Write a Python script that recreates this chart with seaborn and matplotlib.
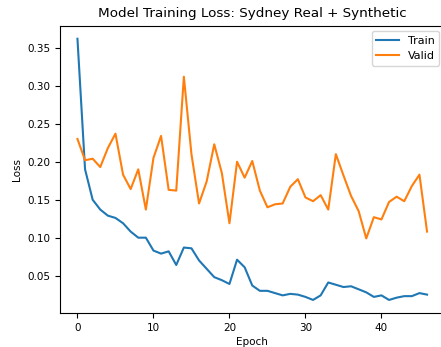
import pandas as pd
import matplotlib
matplotlib.use("Agg")
import matplotlib.pyplot as plt
import seaborn as sns

epochs = list(range(47))
train_loss = [0.362, 0.19, 0.15, 0.137, 0.129, 0.126, 0.119, 0.108, 0.1, 0.1,
              0.083, 0.079, 0.082, 0.064, 0.087, 0.086, 0.07, 0.059, 0.048, 0.044,
              0.039, 0.071, 0.061, 0.037, 0.03, 0.03, 0.027, 0.024, 0.026, 0.025,
              0.022, 0.018, 0.024, 0.041, 0.038, 0.035, 0.036, 0.032, 0.028, 0.022,
              0.024, 0.018, 0.021, 0.023, 0.023, 0.027, 0.025]
valid_loss = [0.23, 0.202, 0.204, 0.193, 0.218, 0.237, 0.183, 0.164, 0.19, 0.137,
              0.205, 0.234, 0.163, 0.162, 0.312, 0.21, 0.145, 0.174, 0.223, 0.185,
              0.119, 0.2, 0.179, 0.201, 0.162, 0.14, 0.144, 0.145, 0.167, 0.177,
              0.153, 0.148, 0.156, 0.137, 0.21, 0.182, 0.155, 0.135, 0.099, 0.127,
              0.124, 0.147, 0.154, 0.148, 0.168, 0.183, 0.108]

df = pd.DataFrame({"Epoch": epochs + epochs,
                   "Loss": train_loss + valid_loss,
                   "set": ["Train"] * 47 + ["Valid"] * 47})

plt.rcParams["font.size"] = 7.5

fig, ax = plt.subplots(figsize=(4.41, 3.47), dpi=100)
sns.lineplot(data=df, x="Epoch", y="Loss", hue="set", ax=ax,
             palette=["#1f77b4", "#ff7f0e"])
ax.legend(title=None, loc="upper right", fontsize=8, borderaxespad=0.5)
ax.set_title("Model Training Loss: Sydney Real + Synthetic", fontsize=9.7)
ax.set_xlabel("Epoch", labelpad=3)
ax.set_ylabel("Loss")
# the right spine sits just past the picture's edge in the reference
fig.subplots_adjust(left=0.136, right=1.008, top=0.926, bottom=0.098)
plt.savefig("out.png")
